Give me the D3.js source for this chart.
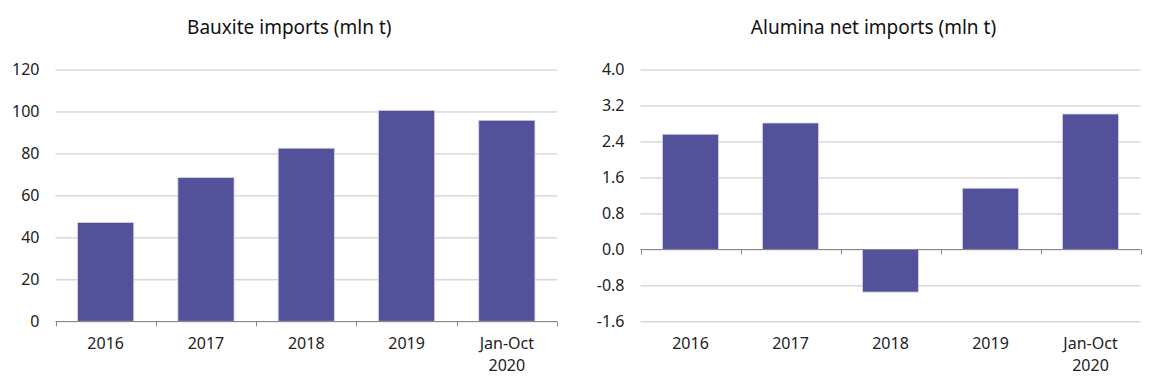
<!DOCTYPE html>
<html>
<head>
<meta charset="utf-8">
<script src="https://cdn.jsdelivr.net/npm/d3@7"></script>
<style>
  body { margin: 0; background: #fff; }
  svg { display: block; font-family: "Noto Sans", sans-serif; }
  .grid line { stroke: #c4c4c4; }
  .grid .domain { display: none; }
  .yaxis .domain, .yaxis line { display: none; }
  .yaxis text, .xlab { fill: #222; }
  .title { fill: #111; font-size: 19px; }
</style>
</head>
<body>
<svg id="chart" width="1165" height="389"></svg>
<script>
const categories = ['2016', '2017', '2018', '2019', 'Jan-Oct\n2020'];
const bauxite = [47.1, 68.5, 82.5, 100.5, 95.8];
const alumina = [2.56, 2.81, -0.95, 1.36, 3.01];
const bauxiteTicks = [0, 20, 40, 60, 80, 100, 120];
const aluminaTicks = [-1.6, -0.8, 0.0, 0.8, 1.6, 2.4, 3.2, 4.0];

const barColor = '#525199';
const svg = d3.select('#chart');

function drawPanel({left, right, title, values, ticks, fmt}) {
  const top = 69.5, bottom = 321.3;
  const x = d3.scaleBand()
        .domain(categories)
        .range([left, right])
        .paddingInner(0.44)
        .paddingOuter(0.22);
  const y = d3.scaleLinear()
        .domain(d3.extent(ticks))
        .range([bottom, top]);
  const g = svg.append('g');
  // Title
  g.append('text')
    .attr('class', 'title')
    .attr('x', (left + right) / 2 - 17)
    .attr('y', 34)
    .attr('text-anchor', 'middle')
    .text(title);
  // Grid
  g.append('g')
    .attr('class', 'grid')
    .attr('transform', `translate(${left},0)`)
    .call(d3.axisLeft(y).tickValues(ticks).tickSize(-(right - left)).tickFormat(''));
  // Y labels
  g.append('g')
    .attr('class', 'yaxis')
    .attr('transform', `translate(${left - 16},0)`)
    .call(d3.axisLeft(y).tickValues(ticks).tickSize(0).tickPadding(0).tickFormat(fmt))
    .selectAll('text')
    .attr('font-size', 16)
    .attr('font-family', '"Noto Sans", sans-serif');
  // Bars
  g.selectAll('rect')
    .data(values)
    .enter().append('rect')
    .attr('x', (_, i) => x(categories[i]))
    .attr('width', x.bandwidth())
    .attr('y', d => y(Math.max(0, d)))
    .attr('height', d => Math.abs(y(d) - y(0)))
    .attr('fill', barColor)
    .attr('stroke', '#d4d4ea')
    .attr('stroke-width', 0.8);
  // Zero axis with ticks between categories
  const y0 = Math.round(y(0)) + 0.5;
  g.append('line')
    .attr('x1', left).attr('x2', right)
    .attr('y1', y0).attr('y2', y0)
    .attr('stroke', '#888');
  const step = (right - left) / categories.length;
  g.selectAll('.tick-mark')
    .data(d3.range(categories.length + 1))
    .enter().append('line')
    .attr('class', 'tick-mark')
    .attr('x1', i => Math.round(left + i * step) + 0.5)
    .attr('x2', i => Math.round(left + i * step) + 0.5)
    .attr('y1', y0).attr('y2', y0 + 5)
    .attr('stroke', '#888');
  // Category labels
  const lab = g.selectAll('.xlab')
    .data(categories)
    .enter().append('text')
    .attr('class', 'xlab')
    .attr('font-size', 16)
    .attr('text-anchor', 'middle')
    .attr('x', d => x(d) + x.bandwidth() / 2)
    .attr('y', 349);
  lab.selectAll('tspan')
    .data(d => d.split('\n'))
    .enter().append('tspan')
    .attr('x', function() { return this.parentNode.getAttribute('x'); })
    .attr('dy', (_, i) => i ? 22 : 0)
    .text(d => d);
}

drawPanel({left: 55.5, right: 557, title: 'Bauxite imports (mln t)',
           values: bauxite, ticks: bauxiteTicks, fmt: d => String(d)});
drawPanel({left: 640.5, right: 1140.5, title: 'Alumina net imports (mln t)',
           values: alumina, ticks: aluminaTicks, fmt: d => d.toFixed(1)});
</script>
</body>
</html>
